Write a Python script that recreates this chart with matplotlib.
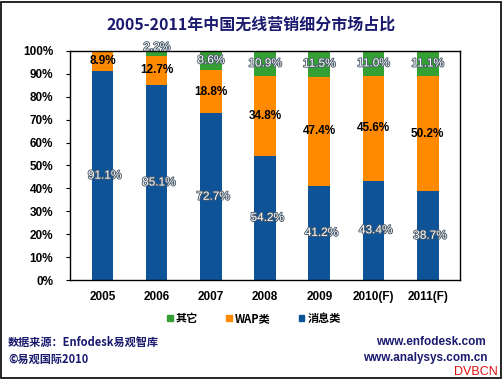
import matplotlib
matplotlib.use("Agg")
import matplotlib.pyplot as plt
import matplotlib.patheffects as pe
from matplotlib.patches import Rectangle
import numpy as np

plt.rcParams['font.family'] = ['Noto Sans CJK SC', 'DejaVu Sans']

years = ["2005", "2006", "2007", "2008", "2009", "2010(F)", "2011(F)"]
msg = [91.1, 85.1, 72.7, 54.2, 41.2, 43.4, 38.7]
wap = [8.9, 12.7, 18.8, 34.8, 47.4, 45.6, 50.2]
other = [0.0, 2.2, 8.6, 10.9, 11.5, 11.0, 11.1]
series_names = ["消息类", "WAP类", "其它"]
yticks = [0, 10, 20, 30, 40, 50, 60, 70, 80, 90, 100]

c_blue = "#0E5397"
c_orange = "#FF8A00"
c_green = "#34A033"
navy = "#1A1A6E"

fig = plt.figure(figsize=(5.03, 3.79), dpi=100)
fig.patch.set_facecolor("white")
fig.add_artist(Rectangle((0.002, 0.003), 0.994, 0.993, transform=fig.transFigure,
                         fill=False, edgecolor="black", linewidth=1.2))

ax = fig.add_axes([0.139, 0.261, 0.776, 0.605])
x = np.arange(len(years))
w = 0.4
ax.bar(x, msg, w, color=c_blue, label=series_names[0])
ax.bar(x, wap, w, bottom=msg, color=c_orange, label=series_names[1])
bot2 = [a + b for a, b in zip(msg, wap)]
ax.bar(x, other, w, bottom=bot2, color=c_green, label=series_names[2])

ax.set_xlim(-0.6, len(years) - 0.4)
ax.set_ylim(0, 100)
ax.set_yticks(yticks)
ax.set_yticklabels([f"{t}%" for t in yticks], fontsize=8.5, fontweight="bold",
                   family=["Liberation Sans"])
ax.set_xticks(x)
ax.set_xticklabels(years, fontsize=8.5, fontweight="bold", family=["Liberation Sans"])
ax.tick_params(axis="x", length=0, pad=8)
ax.tick_params(axis="y", length=3, direction="out", pad=9)
for s in ax.spines.values():
    s.set_linewidth(1.0)
    s.set_color("black")

outline = [pe.withStroke(linewidth=1.3, foreground="#4A5A6A")]
for i in range(len(years)):
    t = ax.text(x[i] + 0.04, msg[i] / 2, f"{msg[i]}%", ha="center", va="center",
                color="white", fontsize=8.5, family=["Liberation Sans"])
    t.set_path_effects(outline)
    ax.text(x[i], msg[i] + wap[i] / 2, f"{wap[i]}%", ha="center", va="center",
            color="black", fontsize=8.5, fontweight="bold", family=["Liberation Sans"])
    if other[i] > 0:
        yy = bot2[i] + other[i] / 2
        if other[i] < 5:
            yy = 101.5
        t = ax.text(x[i], yy, f"{other[i]}%", ha="center", va="center",
                    color="white", fontsize=8.5, family=["Liberation Sans"], clip_on=False)
        t.set_path_effects(outline)

fig.text(0.5, 0.935, "2005-2011年中国无线营销细分市场占比", ha="center", va="center",
         fontsize=11.5, fontweight="bold", color=navy)

handles = [Rectangle((0, 0), 1, 1, color=c) for c in (c_green, c_orange, c_blue)]
fig.legend(handles, [series_names[2], series_names[1], series_names[0]],
           loc="center", bbox_to_anchor=(0.505, 0.16), ncol=3, frameon=False,
           handlelength=0.5, handleheight=0.5, handletextpad=0.3,
           columnspacing=2.5, prop={"weight": "bold", "size": 8})

fig.text(0.016, 0.097, "数据来源：Enfodesk易观智库", ha="left", va="center",
         fontsize=8, fontweight="bold", color=navy)
fig.text(0.016, 0.053, "©易观国际2010", ha="left", va="center",
         fontsize=8, fontweight="bold", color=navy)
fig.text(0.965, 0.097, "www.enfodesk.com", ha="right", va="center",
         fontsize=8.5, fontweight="bold", color=navy, family=["Liberation Sans"])
fig.text(0.97, 0.055, "www.analysys.com.cn", ha="right", va="center",
         fontsize=8.5, fontweight="bold", color=navy, family=["Liberation Sans"])
fig.text(0.99, 0.018, "DVBCN", ha="right", va="center", fontsize=9,
         color="#DD1111", family=["Liberation Sans"])

fig.savefig("out.png", dpi=100)
